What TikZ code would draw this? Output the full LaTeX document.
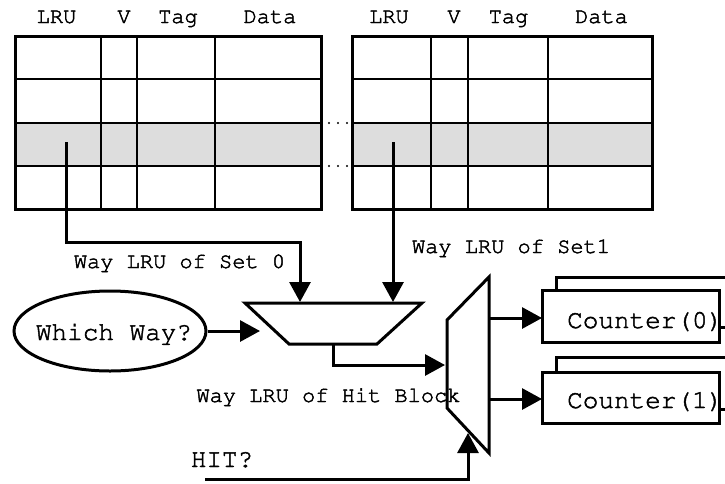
\documentclass[tikz,border=0pt]{standalone}
\usepackage[T1]{fontenc}
\usetikzlibrary{arrows.meta,shapes.geometric}
\definecolor{rowgray}{RGB}{221,221,221}
\newcommand\courfont[1]{\fontencoding{T1}\fontfamily{pcr}\fontsize{#1}{#1}\selectfont}
% Courier with a thin outline stroke, for a slightly heavier face
\newcommand\hv[1]{\special{pdf:literal direct q 2 Tr 0.45 w}#1\special{pdf:literal direct Q}}
\begin{document}
\begin{tikzpicture}[x=1pt,y=-1pt,
  lbl/.style={font=\courfont{22}, inner sep=0pt, anchor=base},
  big/.style={font=\courfont{26}, inner sep=0pt, anchor=base},
  wire/.style={line width=3pt, -{Triangle[length=20pt,width=21pt]}},
  gridline/.style={line width=2pt},
  frame/.style={line width=3pt, line join=miter},
  box/.style={draw, line width=3pt, fill=white},
  boxfill/.style={fill=white, inner sep=0pt, anchor=north west, minimum width=177pt},
]
\clip (0,0) rectangle (725,483);

% ---- cache way 0 ----
\fill[rowgray] (15,123) rectangle (321,166);
\draw[gridline] (15,79) -- (321,79) (15,123) -- (321,123) (15,166) -- (321,166)
  (101,36) -- (101,209) (137,36) -- (137,209) (215,36) -- (215,209);
\draw[frame] (15,36) rectangle (321,209);
\node[lbl] (h0lru)  at (56.5,23) {\hv{LRU}};
\node[lbl] (h0v)    at (124,23)  {\hv{V}};
\node[lbl] (h0tag)  at (178,23)  {\hv{Tag}};
\node[lbl] (h0data) at (270,23)  {\hv{Data}};

% ---- cache way 1 ----
\fill[rowgray] (352,123) rectangle (652,166);
\draw[gridline] (352,79) -- (652,79) (352,123) -- (652,123) (352,166) -- (652,166)
  (431,36) -- (431,209) (468,36) -- (468,209) (548,36) -- (548,209);
\draw[frame] (352,36) rectangle (652,209);
\node[lbl] (h1lru)  at (389,23)   {\hv{LRU}};
\node[lbl] (h1v)    at (454,23)   {\hv{V}};
\node[lbl] (h1tag)  at (508.5,23) {\hv{Tag}};
\node[lbl] (h1data) at (601.5,23) {\hv{Data}};

% ellipsis between the ways
\foreach \x in {329,338,347} {
  \fill (\x,123) circle (1.2);
  \fill (\x,166) circle (1.2);
}

% ---- way select mux ----
\coordinate (m1a) at (245,303);
\coordinate (m1b) at (422,303);
\coordinate (m1c) at (377,344);
\coordinate (m1d) at (289,344);
\draw[frame] (m1a) -- (m1b) -- (m1c) -- (m1d) -- cycle;
\coordinate (m1in0) at (300,302);
\coordinate (m1in1) at (393,302);
\coordinate (m1sel) at (260,331);
\coordinate (m1out) at (333,344);

% ---- counter select demux ----
\coordinate (m2a) at (447,320);
\coordinate (m2b) at (489,277);
\coordinate (m2c) at (489,453);
\coordinate (m2d) at (447,408);
\draw[frame] (m2a) -- (m2b) -- (m2c) -- (m2d) -- cycle;
\coordinate (m2in)  at (445,365);
\coordinate (m2sel) at (468,433);
\coordinate (m2o0)  at (489,318);
\coordinate (m2o1)  at (489,399);

% LRU bits to the mux
\coordinate (lru0) at (66,142);
\coordinate (lru1) at (393,142);
\draw[wire] (lru0) -- (66,242) -| (m1in0);
\draw[wire] (lru1) -- (m1in1);
\node[lbl] (set0) at (179.5,268) {\hv{Way LRU of Set 0}};
\node[lbl] (set1) at (511,253) {\hv{Way LRU of Set1}};

% way selector
\node[draw, ellipse, line width=3pt, minimum width=192pt, minimum height=80pt, inner sep=0pt] (ww) at (110,331) {};
\node[big] (wwt) at (114,340) {\hv{Which Way?}};
\draw[wire] (ww.east) -- (m1sel);

% mux output to demux
\draw[wire] (m1out) -- (333,365) -- (m2in);
\node[lbl] (hitblk) at (328.5,402) {\hv{Way LRU of Hit Block}};

% hit signal
\node[big] (hit) at (222,467) {\hv{HIT?}};
\coordinate (hitstart) at (205,479);
\draw[wire] (hitstart) -| (m2sel);

% ---- counters (stacked boxes) ----
\draw[box] (556,277) rectangle (745,327);
\node[boxfill, minimum height=52pt] (c0) at (542,290) {};
\begin{scope}
  \clip (0,0) rectangle (725,327) (0,327) rectangle (719,342);
  \node[big, anchor=base west] (c0t) at (567,328) {\hv{Counter(0)}};
\end{scope}
\draw[frame] (c0.north west) rectangle (c0.south east);

\draw[box] (556,357) rectangle (745,409);
\node[boxfill, minimum height=51pt] (c1) at (542,372) {};
\begin{scope}
  \clip (0,0) rectangle (725,409) (0,409) rectangle (719,423);
  \node[big, anchor=base west] (c1t) at (567,408) {\hv{Counter(1)}};
\end{scope}
\draw[frame] (c1.north west) rectangle (c1.south east);

\draw[wire] (m2o0) -- (c0.west |- m2o0);
\draw[wire] (m2o1) -- (c1.west |- m2o1);
\end{tikzpicture}
\end{document}
